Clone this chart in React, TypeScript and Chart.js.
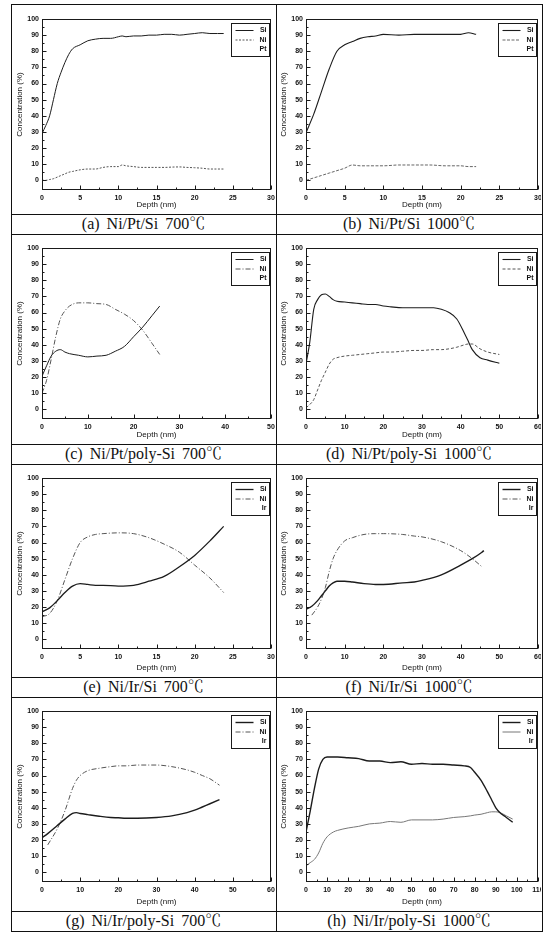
import React, { useEffect, useRef } from "react";
import { Chart, registerables } from "chart.js";

Chart.register(...registerables);

// ---------------- data ----------------
// (a) Ni/Pt/Si 700℃
const aDepth = [0, 0.5, 1, 1.5, 2, 2.5, 3, 3.5, 4, 5, 6, 7, 8, 9, 10, 10.5, 11, 12, 13, 14, 15, 16, 17, 18, 19, 20, 21, 22, 23, 23.8];
const aSi = [29, 34, 40, 50, 60, 67, 73, 78, 81.5, 84, 86.5, 87.5, 88, 88, 89, 89.5, 89, 89.5, 89.5, 90, 90, 90.5, 90.5, 90, 90.5, 91, 91.5, 91, 91, 91];
const aNi = [0, 0, 0.5, 1, 2, 3, 4, 5, 5.5, 6.5, 7, 7, 8, 8.5, 8.5, 9.5, 9, 8.5, 8, 8, 8, 8, 8.2, 8.3, 8, 7.8, 7.5, 7, 7, 7];

// (b) Ni/Pt/Si 1000℃
const bDepth = [0, 1, 2, 3, 4, 5, 6, 7, 8, 9, 10, 12, 14, 16, 18, 20, 21, 22];
const bSi = [29.5, 41, 55, 69, 80, 84, 86, 88, 89, 89.5, 90.5, 90, 90.5, 90.5, 90.5, 90.5, 91.5, 90.5];
const bNi = [0, 1.5, 3, 4.5, 6, 7.5, 9.5, 9, 9, 9, 9, 9.5, 9.5, 9.5, 9, 9, 8.5, 8.5];

// (c) Ni/Pt/poly-Si 700℃
const cDepth = [0, 1, 2, 3, 4, 5, 6, 8, 10, 12, 14, 16, 18, 20, 22, 24, 25.7];
const cSi = [20.5, 27, 33, 36, 37, 35.5, 34.5, 33.5, 32.5, 33, 33.5, 36, 39, 45, 51, 58, 64];
const cNi = [10, 18, 31, 45, 56, 61, 64, 66, 66, 65.5, 65, 62, 59, 55, 49, 41, 34];

// (d) Ni/Pt/poly-Si 1000℃
const dDepth = [0, 1, 2, 3, 4, 5, 6, 7, 8, 10, 12, 14, 16, 18, 20, 22, 25, 28, 30, 33, 35, 37, 39, 41, 42, 43, 45, 47, 50];
const dSi = [28, 42, 62, 68, 71, 71.5, 70, 68, 67, 66.5, 66, 65.5, 65, 65, 64, 63.5, 63, 63, 63, 63, 62, 60, 56, 47, 42, 37, 32, 30.5, 28.5];
const dNi = [1, 3, 6, 12, 18, 23, 28, 31, 32, 33, 33.5, 34, 34.5, 35, 35.5, 35.5, 36, 36.5, 36.5, 37, 37, 37.5, 38.5, 40, 40.5, 40.5, 37.5, 35.5, 34];

// (e) Ni/Ir/Si 700℃
const eDepth = [0, 1, 2, 3, 4, 5, 6, 7, 8, 10, 12, 14, 16, 18, 20, 22, 23.8];
const eSi = [17, 19.5, 24, 29, 33, 34.5, 34, 33.5, 33.5, 33, 33.5, 36, 39, 45, 52, 61, 70];
const eNi = [14, 16, 24, 37, 50, 60, 63.5, 65, 65.5, 66, 65.5, 63, 59, 54, 46, 38, 29];

// (f) Ni/Ir/Si 1000℃
const fDepth = [0, 1.5, 3, 4, 5, 6, 7, 8, 10, 12, 15, 18, 20, 25, 28, 30, 35, 40, 43, 45.5, 46];
const fSi = [18.5, 20.5, 24, 27, 30, 33, 35, 36, 36, 35.5, 34.5, 34, 34, 35, 35.5, 36.5, 40, 46, 50, 54, 55];
const fNi = [null, 15, 20, 25, 32, 42, 50, 55, 61, 63, 65, 65.5, 65.5, 65, 64, 63.5, 60.5, 55, 50, 45, null];

// (g) Ni/Ir/poly-Si 700℃
const gDepth = [0, 1.5, 4, 6, 8, 9, 10, 12, 15, 18, 20, 22, 25, 30, 34, 38, 40, 42, 44, 46.5];
const gSi = [21.5, 24, 29, 33, 36.5, 37, 36.5, 35.8, 34.8, 34, 33.8, 33.5, 33.5, 34, 35, 37, 38.5, 40.5, 42.5, 45];
const gNi = [null, 17, 27, 38, 52, 57, 60, 63, 64.5, 65.5, 66, 66, 66.5, 66.5, 65.5, 63.5, 62, 60, 58, 54];

// (h) Ni/Ir/poly-Si 1000℃
const hDepth = [0, 2, 4, 6, 8, 10, 13, 15, 20, 25, 30, 35, 40, 45, 50, 55, 60, 65, 70, 75, 78, 80, 83, 86, 88, 90, 92, 95, 98];
const hSi = [25, 38, 52, 64, 70, 71.5, 71.5, 71.5, 71, 70.5, 69, 69, 68, 68.5, 67, 67.5, 67, 67, 66.5, 66, 65, 62, 57, 50, 45, 40, 37, 34, 31];
const hNi = [4, 6, 8, 12, 18, 22, 25, 26, 27.5, 28.5, 30, 30.5, 31.5, 31, 32.5, 32.5, 32.5, 33, 34, 34.5, 35, 35.5, 36, 37, 37.5, 37.5, 37, 35, 33];

const legendPt = ["Si", "Ni", "Pt"];
const legendIr = ["Si", "Ni", "Ir"];
const xMaxes = [30, 30, 50, 60, 30, 60, 60, 110];
const xSteps = [5, 5, 10, 10, 5, 10, 10, 10];
const yTickValues = [0, 10, 20, 30, 40, 50, 60, 70, 80, 90, 100];
const captions = [
  "(a) Ni/Pt/Si 700℃",
  "(b) Ni/Pt/Si 1000℃",
  "(c) Ni/Pt/poly-Si 700℃",
  "(d) Ni/Pt/poly-Si 1000℃",
  "(e) Ni/Ir/Si 700℃",
  "(f) Ni/Ir/Si 1000℃",
  "(g) Ni/Ir/poly-Si 700℃",
  "(h) Ni/Ir/poly-Si 1000℃",
];

type Panel = {
  depth: number[];
  si: (number | null)[];
  ni: (number | null)[];
  labels: string[];
};

const panels: Panel[] = [
  { depth: aDepth, si: aSi, ni: aNi, labels: legendPt },
  { depth: bDepth, si: bSi, ni: bNi, labels: legendPt },
  { depth: cDepth, si: cSi, ni: cNi, labels: legendPt },
  { depth: dDepth, si: dSi, ni: dNi, labels: legendPt },
  { depth: eDepth, si: eSi, ni: eNi, labels: legendIr },
  { depth: fDepth, si: fSi, ni: fNi, labels: legendIr },
  { depth: gDepth, si: gSi, ni: gNi, labels: legendIr },
  { depth: hDepth, si: hSi, ni: hNi, labels: legendIr },
];

// ---------------- styles / layout ----------------
const niDashes: number[][] = [[2, 1.5], [3, 1.5], [5, 2, 1, 2], [3, 2], [5, 2, 1, 2], [5, 2, 1, 2], [5, 2, 1, 2], []];
const niColors = ["#555", "#666", "#555", "#555", "#555", "#555", "#555", "#777"];
const siWidths = [1, 1.1, 1, 1.1, 1.3, 1.4, 1.4, 1.4];

const rowTops = [5, 234, 464, 697];
const chartHeights = [209, 210, 213, 214];
const captionH = 20;
const TABLE_L = 11;
const TABLE_R = 542;
const DIVIDER = 276;
const PLOT_TOP = 14;
const PLOT_BOTTOM = 185;
const YAXIS_W = 29;

const TICK_FONT = { family: "'Liberation Sans', Arial, sans-serif", size: 7, weight: "bold" as const };
const TITLE_FONT = { family: "'Liberation Sans', Arial, sans-serif", size: 8, weight: "normal" as const };

const originFrame = {
  id: "originFrame",
  afterDraw(chart: any) {
    const { ctx, chartArea: a, scales } = chart;
    ctx.save();
    ctx.strokeStyle = "#1a1a1a";
    ctx.lineWidth = 1;
    ctx.setLineDash([]);
    const L = Math.round(a.left) + 0.5;
    const T = Math.round(a.top) + 0.5;
    const R = Math.round(a.right) - 0.5;
    const B = Math.round(a.bottom) - 0.5;
    ctx.strokeRect(L, T, R - L, B - T);
    ctx.beginPath();
    const xs = scales.x;
    const xv = xs.ticks.map((t: any) => t.value);
    xv.forEach((v: number, i: number) => {
      const px = Math.round(xs.getPixelForValue(v)) + 0.5;
      ctx.moveTo(px, B);
      ctx.lineTo(px, B - 4);
      if (i < xv.length - 1) {
        const m = Math.round(xs.getPixelForValue((v + xv[i + 1]) / 2)) + 0.5;
        ctx.moveTo(m, B);
        ctx.lineTo(m, B - 2);
      }
    });
    const ys = scales.y;
    const yv = ys.ticks.map((t: any) => t.value);
    yv.forEach((v: number, i: number) => {
      const py = Math.round(ys.getPixelForValue(v)) + 0.5;
      ctx.moveTo(L, py);
      ctx.lineTo(L + 4, py);
      if (i < yv.length - 1) {
        const m = Math.round(ys.getPixelForValue((v + yv[i + 1]) / 2)) + 0.5;
        ctx.moveTo(L, m);
        ctx.lineTo(L + 2, m);
      }
    });
    ctx.stroke();

    // inset legend box (upper right)
    const w = 38;
    const h = 33;
    const x1 = Math.round(a.right) - 2 - w + 0.5;
    const y1 = Math.round(a.top) + 4 + 0.5;
    ctx.fillStyle = "#fff";
    ctx.fillRect(x1, y1, w, h);
    ctx.strokeStyle = "#1a1a1a";
    ctx.lineWidth = 1;
    ctx.strokeRect(x1, y1, w, h);
    chart.data.datasets.forEach((ds: any, i: number) => {
      const yy = y1 + 7 + i * 9.5;
      ctx.save();
      ctx.setLineDash(ds.borderDash || []);
      ctx.strokeStyle = ds.borderColor;
      ctx.lineWidth = ds.borderWidth;
      ctx.beginPath();
      ctx.moveTo(x1 + 4, yy);
      ctx.lineTo(x1 + 22, yy);
      ctx.stroke();
      ctx.restore();
      ctx.fillStyle = "#111";
      ctx.font = "bold 7px 'Liberation Sans', Arial, sans-serif";
      ctx.textAlign = "right";
      ctx.textBaseline = "middle";
      ctx.fillText(ds.label, x1 + w - 3, yy);
    });
    ctx.restore();
  },
};

function ChartPanel(props: { idx: number; left: number; top: number; width: number; height: number; padRight: number }) {
  const { idx, left, top, width, height, padRight } = props;
  const ref = useRef<HTMLCanvasElement>(null);
  useEffect(() => {
    const p = panels[idx];
    const toPts = (ys: (number | null)[]) => p.depth.map((x, i) => ({ x, y: ys[i] }));
    const chart = new Chart(ref.current as HTMLCanvasElement, {
      type: "line",
      data: {
        datasets: [
          {
            label: p.labels[0],
            data: toPts(p.si) as any,
            borderColor: "#1c1c1c",
            borderWidth: siWidths[idx],
            pointRadius: 0,
            cubicInterpolationMode: "monotone",
            fill: false,
          },
          {
            label: p.labels[1],
            data: toPts(p.ni) as any,
            borderColor: niColors[idx],
            borderWidth: 1,
            borderDash: niDashes[idx],
            pointRadius: 0,
            cubicInterpolationMode: "monotone",
            fill: false,
          },
          {
            label: p.labels[2],
            data: [],
            borderColor: "rgba(0,0,0,0)",
            borderWidth: 1,
            pointRadius: 0,
          },
        ],
      },
      options: {
        animation: false,
        responsive: false,
        maintainAspectRatio: false,
        devicePixelRatio: 1,
        layout: { padding: { top: PLOT_TOP, right: padRight, bottom: 0, left: 0 } },
        plugins: { legend: { display: false }, tooltip: { enabled: false } },
        scales: {
          x: {
            type: "linear",
            min: 0,
            max: xMaxes[idx],
            ticks: { stepSize: xSteps[idx], padding: 4, font: TICK_FONT, color: "#111", maxRotation: 0, autoSkip: false },
            grid: { display: false, drawTicks: false },
            border: { display: false },
            title: { display: true, text: "Depth (nm)", font: TITLE_FONT, color: "#111", padding: { top: 0, bottom: 4 } },
            afterFit: (s: any) => {
              s.height = height - PLOT_BOTTOM;
              s.paddingLeft = 0;
              s.paddingRight = 0;
            },
          },
          y: {
            type: "linear",
            min: -6,
            max: 100,
            ticks: { stepSize: 10, padding: 3, font: TICK_FONT, color: "#111" },
            afterBuildTicks: (s: any) => {
              s.ticks = yTickValues.map((v) => ({ value: v }));
            },
            grid: { display: false, drawTicks: false },
            border: { display: false },
            title: { display: true, text: "Concentration (%)", font: TITLE_FONT, color: "#111", padding: { top: 2, bottom: 0 } },
            afterFit: (s: any) => {
              s.width = YAXIS_W;
              s.paddingTop = 0;
              s.paddingBottom = 0;
            },
          },
        },
      } as any,
      plugins: [originFrame],
    });
    return () => chart.destroy();
  }, [idx, height, padRight]);
  return (
    <canvas
      ref={ref}
      width={width}
      height={height}
      style={{ position: "absolute", left, top, width, height, display: "block" }}
    />
  );
}

const line = (style: React.CSSProperties): React.CSSProperties => ({
  position: "absolute",
  background: "#111",
  ...style,
});

export default function App() {
  const items: React.ReactNode[] = [];
  for (let r = 0; r < 4; r++) {
    const top = rowTops[r];
    const h = chartHeights[r];
    for (let c = 0; c < 2; c++) {
      const idx = r * 2 + c;
      const left = c === 0 ? TABLE_L + 2 : DIVIDER + 1;
      const width = c === 0 ? DIVIDER - TABLE_L - 2 : TABLE_R - DIVIDER - 2;
      items.push(
        <ChartPanel key={"c" + idx} idx={idx} left={left} top={top} width={width} height={h} padRight={c === 0 ? 5 : 3} />
      );
      const capLeft = c === 0 ? TABLE_L : DIVIDER;
      const capW = c === 0 ? DIVIDER - TABLE_L : TABLE_R - DIVIDER;
      items.push(
        <div
          key={"t" + idx}
          style={{
            position: "absolute",
            left: capLeft,
            top: top + h,
            width: capW,
            height: captionH,
            lineHeight: captionH + "px",
            textAlign: "center",
            fontFamily: "'Liberation Serif', 'Noto Serif CJK KR', 'Noto Sans CJK KR', serif",
            fontSize: 16,
            wordSpacing: 3,
            color: "#111",
            whiteSpace: "nowrap",
          }}
        >
          {captions[idx]}
        </div>
      );
    }
    items.push(<div key={"h1" + r} style={line({ left: TABLE_L, top: top + h, width: TABLE_R - TABLE_L, height: 1 })} />);
    items.push(<div key={"h2" + r} style={line({ left: TABLE_L, top: top + h + captionH, width: TABLE_R - TABLE_L, height: 1 })} />);
  }
  return (
    <div style={{ position: "absolute", left: 0, top: 0, width: 544, height: 934, background: "#fff", overflow: "hidden" }}>
      {items}
      <div style={line({ left: TABLE_L, top: 4, width: TABLE_R - TABLE_L, height: 1 })} />
      <div style={line({ left: TABLE_L, top: 4, width: 1, height: 928 })} />
      <div style={line({ left: TABLE_R, top: 4, width: 1, height: 928 })} />
      <div style={line({ left: DIVIDER, top: 4, width: 1, height: 928 })} />
    </div>
  );
}
